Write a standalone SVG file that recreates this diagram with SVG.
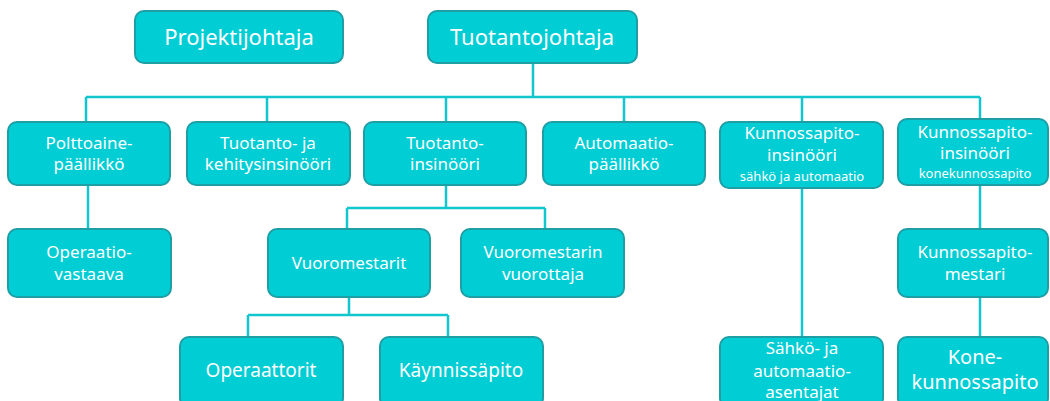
<svg xmlns="http://www.w3.org/2000/svg" width="1050" height="401" viewBox="0 0 1050 401">
<style>
.b{fill:#00CDD4;stroke:#1E9FA5;stroke-width:2}
.c{fill:none;stroke:#12C6CE;stroke-width:2.5}
text{font-family:"Noto Sans","Open Sans",sans-serif;fill:#ffffff;text-anchor:middle}
.t1{font-size:22px}
.t2{font-size:17px}
.t3{font-size:13px}
.t4{font-size:19px}
.t5{font-size:20px}
</style>
<rect width="1050" height="401" fill="#ffffff"/>
<g id="connectors">
<path class="c" d="M533 63V97M86 97H980M86 97V122M267 97V122M446 97V122M624 97V122M802 97V122M980 97V120"/>
<path class="c" d="M88 185V229"/>
<path class="c" d="M446 185V208M347 208H545M347 208V229M545 208V229"/>
<path class="c" d="M349 297V315M248 315H448M248 315V337M448 315V337"/>
<path class="c" d="M802 188V337"/>
<path class="c" d="M980 185V229M980 297V337"/>
</g>
<g id="projektijohtaja"><rect class="b" x="135" y="11" width="208" height="52" rx="9"/><text class="t1" x="239" y="45">Projektijohtaja</text></g>
<g id="tuotantojohtaja"><rect class="b" x="428" y="11" width="209" height="52" rx="9"/><text class="t1" x="532" y="45">Tuotantojohtaja</text></g>
<g id="polttoaine"><rect class="b" x="8" y="122" width="162" height="63" rx="9"/><text class="t2" x="89" y="149">Polttoaine-</text><text class="t2" x="89" y="170">päällikkö</text></g>
<g id="kehitysinsinoori"><rect class="b" x="187" y="122" width="163" height="63" rx="9"/><text class="t2" x="268" y="149">Tuotanto- ja</text><text class="t2" x="268" y="170">kehitysinsinööri</text></g>
<g id="tuotantoinsinoori"><rect class="b" x="364" y="122" width="162" height="63" rx="9"/><text class="t2" x="445" y="149">Tuotanto-</text><text class="t2" x="445" y="170">insinööri</text></g>
<g id="automaatiopaallikko"><rect class="b" x="543" y="122" width="162" height="63" rx="9"/><text class="t2" x="624" y="149">Automaatio-</text><text class="t2" x="624" y="170">päällikkö</text></g>
<g id="kunnossapito-sahko"><rect class="b" x="720" y="122" width="163" height="66" rx="9"/><text class="t2" x="802" y="139">Kunnossapito-</text><text class="t2" x="802" y="161">insinööri</text><text class="t3" x="802" y="181">sähkö ja automaatio</text></g>
<g id="kunnossapito-kone"><rect class="b" x="898" y="119" width="150" height="66" rx="9"/><text class="t2" x="975" y="138">Kunnossapito-</text><text class="t2" x="975" y="159">insinööri</text><text class="t3" x="975" y="178">konekunnossapito</text></g>
<g id="operaatiovastaava"><rect class="b" x="8" y="229" width="163" height="68" rx="9"/><text class="t2" x="89" y="258">Operaatio-</text><text class="t2" x="89" y="280">vastaava</text></g>
<g id="vuoromestarit"><rect class="b" x="268" y="229" width="162" height="68" rx="9"/><text class="t2" x="349" y="269">Vuoromestarit</text></g>
<g id="vuorottaja"><rect class="b" x="461" y="229" width="163" height="68" rx="9"/><text class="t2" x="543" y="258">Vuoromestarin</text><text class="t2" x="543" y="280">vuorottaja</text></g>
<g id="kunnossapitomestari"><rect class="b" x="898" y="229" width="150" height="68" rx="9"/><text class="t2" x="975" y="258">Kunnossapito-</text><text class="t2" x="975" y="280">mestari</text></g>
<g id="operaattorit"><rect class="b" x="180" y="337" width="163" height="70" rx="9"/><text class="t4" x="261" y="377">Operaattorit</text></g>
<g id="kaynnissapito"><rect class="b" x="380" y="337" width="163" height="70" rx="9"/><text class="t4" x="461" y="377">Käynnissäpito</text></g>
<g id="asentajat"><rect class="b" x="720" y="337" width="163" height="70" rx="9"/><text class="t2" x="802" y="354">Sähkö- ja</text><text class="t2" x="802" y="377">automaatio-</text><text class="t2" x="802" y="398">asentajat</text></g>
<g id="konekunnossapito"><rect class="b" x="898" y="337" width="150" height="70" rx="9"/><text class="t5" x="975" y="364">Kone-</text><text class="t5" x="975" y="389">kunnossapito</text></g>
</svg>
